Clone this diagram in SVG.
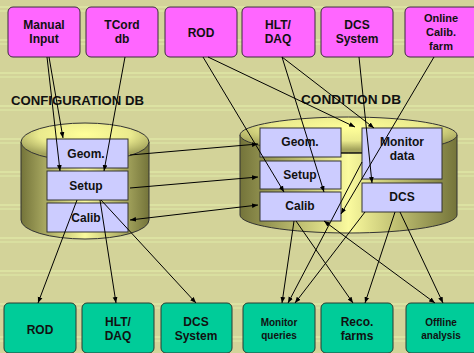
<svg xmlns="http://www.w3.org/2000/svg" width="474" height="353" viewBox="0 0 474 353">
  <defs>
    <pattern id="bgStripes" x="0" y="6" width="474" height="33" patternUnits="userSpaceOnUse">
      <rect width="474" height="33" fill="#D3D399"/>
      <rect y="0" width="474" height="2" fill="#DCE2A2"/>
      <rect y="4" width="474" height="2" fill="#D9DFA0"/>
    </pattern>
    <linearGradient id="cylBody" x1="0" y1="0" x2="1" y2="0">
      <stop offset="0" stop-color="#74743A"/>
      <stop offset="0.25" stop-color="#B8B86C"/>
      <stop offset="0.5" stop-color="#FAFA9E"/>
      <stop offset="0.75" stop-color="#B8B86C"/>
      <stop offset="1" stop-color="#74743A"/>
    </linearGradient>
    <radialGradient id="cylTop" cx="0.5" cy="0.3" r="0.6">
      <stop offset="0" stop-color="#FFFF99"/>
      <stop offset="0.6" stop-color="#EAEA8E"/>
      <stop offset="1" stop-color="#A4A45C"/>
    </radialGradient>
    <marker id="ah" viewBox="0 0 10 10" refX="10" refY="5" markerWidth="6" markerHeight="6" orient="auto-start-reverse" markerUnits="userSpaceOnUse">
      <path d="M0,1 L10,5 L0,9 z" fill="#000"/>
    </marker>
    <style>
      .src rect { fill: #FF66FF; stroke: #3A2A3A; stroke-width: 1; }
      .dst rect { fill: #00CC99; stroke: #2A3A30; stroke-width: 1; }
      .cell rect { fill: #CCCCFF; stroke: #333; stroke-width: 1; }
      text { font-family: "Liberation Sans", Arial, sans-serif; font-weight: bold; fill: #111; text-anchor: middle; }
      .t12 { font-size: 12px; }
      .t11 { font-size: 11px; }
      .t10 { font-size: 10px; }
      .title { font-size: 13px; text-anchor: start; }
      .cyl { stroke: #333; stroke-width: 1; }
      .edges line { stroke: #000; stroke-width: 1; fill: none; }
      .arr { marker-end: url(#ah); }
      .both { marker-start: url(#ah); marker-end: url(#ah); }
    </style>
  </defs>

  <!-- background -->
  <rect width="474" height="353" fill="url(#bgStripes)"/>

  <!-- database cylinders -->
  <g id="config-db-cylinder">
    <path class="cyl" d="M21,142 V220 A64,19 0 0 0 149,220 V142 Z" fill="url(#cylBody)"/>
    <ellipse class="cyl" cx="85" cy="142" rx="64" ry="19" fill="url(#cylTop)"/>
  </g>
  <g id="condition-db-cylinder">
    <path class="cyl" d="M240,135 V215 A108.5,18 0 0 0 457,215 V135 Z" fill="url(#cylBody)"/>
    <ellipse class="cyl" cx="348.5" cy="135" rx="108.5" ry="18" fill="url(#cylTop)"/>
  </g>

  <text class="title" x="11" y="105" textLength="133" lengthAdjust="spacingAndGlyphs">CONFIGURATION DB</text>
  <text class="title" x="301" y="104" textLength="100" lengthAdjust="spacingAndGlyphs">CONDITION DB</text>

  <!-- configuration DB cells -->
  <g id="cfg-geom" class="cell"><rect x="47" y="139" width="81" height="29"/><text class="t12" x="86" y="158">Geom.</text></g>
  <g id="cfg-setup" class="cell"><rect x="47" y="171" width="81" height="29"/><text class="t12" x="86" y="190">Setup</text></g>
  <g id="cfg-calib" class="cell"><rect x="47" y="203" width="81" height="29"/><text class="t12" x="86" y="222">Calib</text></g>

  <!-- condition DB cells -->
  <g id="cond-geom" class="cell"><rect x="260" y="128" width="81" height="29"/><text class="t12" x="300" y="146">Geom.</text></g>
  <g id="cond-setup" class="cell"><rect x="260" y="161" width="81" height="28"/><text class="t12" x="300" y="179">Setup</text></g>
  <g id="cond-calib" class="cell"><rect x="260" y="192" width="81" height="29"/><text class="t12" x="300" y="210">Calib</text></g>
  <g id="cond-monitor" class="cell"><rect x="362" y="128" width="80" height="51"/><text class="t12" x="402" y="146">Monitor</text><text class="t12" x="402" y="160">data</text></g>
  <g id="cond-dcs" class="cell"><rect x="362" y="183" width="80" height="29"/><text class="t12" x="402" y="201">DCS</text></g>

  <!-- input sources -->
  <g id="src-manual" class="src"><rect x="8" y="7" width="72" height="50" rx="5"/><text class="t12" x="44" y="29">Manual</text><text class="t12" x="44" y="43">Input</text></g>
  <g id="src-tcord" class="src"><rect x="86" y="7" width="72" height="50" rx="5"/><text class="t12" x="122" y="29">TCord</text><text class="t12" x="122" y="43">db</text></g>
  <g id="src-rod" class="src"><rect x="165" y="7" width="72" height="50" rx="5"/><text class="t12" x="201" y="37">ROD</text></g>
  <g id="src-hlt" class="src"><rect x="242" y="7" width="73" height="50" rx="5"/><text class="t12" x="278" y="29">HLT/</text><text class="t12" x="278" y="43">DAQ</text></g>
  <g id="src-dcs" class="src"><rect x="321" y="7" width="72" height="50" rx="5"/><text class="t12" x="357" y="29">DCS</text><text class="t12" x="357" y="43">System</text></g>
  <g id="src-calibfarm" class="src"><rect x="405" y="7" width="74" height="50" rx="5"/><text class="t11" x="441" y="22">Online</text><text class="t11" x="441" y="36">Calib.</text><text class="t11" x="441" y="50">farm</text></g>

  <!-- consumers -->
  <g id="dst-rod" class="dst"><rect x="4" y="303" width="72" height="50" rx="5"/><text class="t12" x="40" y="334">ROD</text></g>
  <g id="dst-hlt" class="dst"><rect x="82" y="303" width="72" height="50" rx="5"/><text class="t12" x="118" y="326">HLT/</text><text class="t12" x="118" y="340">DAQ</text></g>
  <g id="dst-dcs" class="dst"><rect x="161" y="303" width="71" height="50" rx="5"/><text class="t12" x="196" y="326">DCS</text><text class="t12" x="196" y="340">System</text></g>
  <g id="dst-monitor" class="dst"><rect x="243" y="303" width="72" height="50" rx="5"/><text class="t10" x="279" y="326">Monitor</text><text class="t10" x="279" y="339">queries</text></g>
  <g id="dst-reco" class="dst"><rect x="321" y="303" width="72" height="50" rx="5"/><text class="t12" x="357" y="326">Reco.</text><text class="t12" x="357" y="340">farms</text></g>
  <g id="dst-offline" class="dst"><rect x="406" y="303" width="74" height="50" rx="5"/><text class="t10" x="441" y="326">Offline</text><text class="t10" x="441" y="339">analysis</text></g>

  <!-- connectors -->
  <g class="edges">
    <!-- sources into configuration DB -->
    <line class="arr" x1="49" y1="57" x2="63" y2="138"/>
    <line class="arr" x1="47" y1="57" x2="60" y2="171"/>
    <line class="arr" x1="125" y1="57" x2="104" y2="171"/>
    <!-- sources into condition DB -->
    <line class="arr" x1="203" y1="57" x2="284" y2="192"/>
    <line class="arr" x1="208" y1="57" x2="355" y2="127"/>
    <line class="arr" x1="282" y1="57" x2="324" y2="192"/>
    <line class="arr" x1="282" y1="57" x2="374" y2="128"/>
    <line class="arr" x1="359" y1="57" x2="372" y2="183"/>
    <line class="arr" x1="434" y1="57" x2="341" y2="214"/>
    <!-- configuration DB to condition DB -->
    <line class="arr" x1="130" y1="155" x2="258" y2="144"/>
    <line class="arr" x1="130" y1="188" x2="258" y2="177"/>
    <line class="both" x1="130" y1="220" x2="258" y2="205"/>
    <line x1="341" y1="153" x2="362" y2="153"/>
    <!-- configuration DB to consumers -->
    <line class="arr" x1="77" y1="200" x2="38" y2="303"/>
    <line class="arr" x1="100" y1="200" x2="116" y2="303"/>
    <line class="arr" x1="101" y1="200" x2="196" y2="303"/>
    <!-- condition DB to consumers -->
    <line class="arr" x1="294" y1="221" x2="282" y2="303"/>
    <line class="arr" x1="296" y1="221" x2="353" y2="303"/>
    <line class="both" x1="324" y1="221" x2="435" y2="303"/>
    <line class="arr" x1="362" y1="162" x2="288" y2="303"/>
    <line class="arr" x1="365" y1="212" x2="295" y2="303"/>
    <line class="arr" x1="395" y1="212" x2="365" y2="303"/>
    <line class="arr" x1="400" y1="212" x2="443" y2="303"/>
  </g>
</svg>
